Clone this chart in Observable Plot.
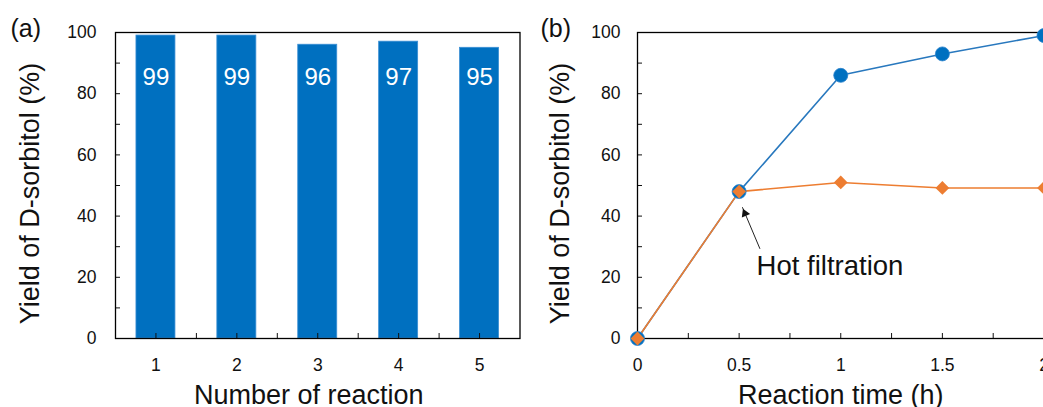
<!DOCTYPE html>
<html>
<head>
<meta charset="utf-8">
<script src="https://cdn.jsdelivr.net/npm/d3@7"></script>
<script src="https://cdn.jsdelivr.net/npm/@observablehq/plot@0.6"></script>
<style>
  html, body { margin: 0; padding: 0; background: #fff; }
  #wrap { position: relative; width: 1043px; height: 407px; overflow: hidden; background: #fff; }
  #wrap > div { position: absolute; top: 0; height: 407px; }
  #wrap svg { max-width: none !important; }
</style>
</head>
<body>
<div id="wrap"><div id="pa" style="left:0;width:521px"></div><div id="pb" style="left:520px;width:533px"></div></div>
<script>
// ---- data ----
const reactions = [1, 2, 3, 4, 5];
const yieldsA = [99, 99, 96, 97, 95];
const times = [0, 0.5, 1, 1.5, 2];
const yieldCatalyst = [0, 48, 86, 93, 99];
const yieldFiltered = [0, 48, 51, 49.2, 49.2];
const yTicks = [0, 10, 20, 30, 40, 50, 60, 70, 80, 90, 100];
const yLabels = [0, 20, 40, 60, 80, 100];
const xTicksA = [1, 1.5, 2, 2.5, 3, 3.5, 4, 4.5, 5];
const xLabelsA = [1, 2, 3, 4, 5];
const xTicksB = [0, 0.25, 0.5, 0.75, 1, 1.25, 1.5, 1.75, 2];
const xLabelsB = [0, 0.5, 1, 1.5, 2];
const annotationText = [{t: 0.586, v: 23.5, label: "Hot filtration"}];
const annotationArrow = [{t1: 0.6025, v1: 29.3, t2: 0.516, v2: 42.9}];

const FONT = "Liberation Sans, Arial, Helvetica, sans-serif";
const BLUE = "#0070C0";
const BLUE_LINE = "#2878BE";
const ORANGE = "#ED7D31";
const TICK_FS = 17.5;

const barsA = reactions.map((n, i) => ({n, v: yieldsA[i], label: String(yieldsA[i])}));
const seriesB = times.map((t, i) => ({t, a: yieldCatalyst[i], b: yieldFiltered[i]}));

const common = {
  height: 407,
  marginTop: 32,
  marginBottom: 69,
  style: {fontFamily: FONT, fontSize: "17.5px", color: "#111", background: "transparent", overflow: "visible", maxWidth: "none"}
};

const plotA = Plot.plot({
  ...common,
  width: 521,
  marginLeft: 115,
  marginRight: 1.5,
  x: {domain: [0.5, 5.5]},
  y: {domain: [0, 100]},
  marks: [
    Plot.rectY(barsA, {x1: d => d.n - 0.241, x2: d => d.n + 0.241, y1: 0, y2: "v", fill: BLUE, stroke: "#3b8fd4", strokeWidth: 0.8}),
    Plot.text(barsA, {x: "n", text: "label", frameAnchor: "top", lineAnchor: "middle", dy: 45, fill: "white", fontSize: 24}),
    Plot.axisY({ticks: yTicks, tickSize: -5, tickFormat: () => "", label: null}),
    Plot.axisY({ticks: yLabels, tickSize: 0, tickPadding: 19, label: null, fontSize: TICK_FS}),
    Plot.axisX({ticks: xTicksA, tickSize: -5, tickFormat: () => "", label: null}),
    Plot.axisX({ticks: xLabelsA, tickSize: 0, tickPadding: 20, tickFormat: d => String(d), label: null, fontSize: TICK_FS}),
    Plot.frame({stroke: "black", strokeWidth: 1.3}),
    Plot.text(["Yield of D-sorbitol (%)"], {frameAnchor: "left", dx: -85, dy: 8, rotate: -90, textAnchor: "middle", lineAnchor: "middle", fontSize: 27, fill: "#111"}),
    Plot.text(["Number of reaction"], {frameAnchor: "bottom", dx: -9, dy: 65, textAnchor: "middle", lineAnchor: "bottom", fontSize: 27, fill: "#111"}),
    Plot.text(["(a)"], {frameAnchor: "top-left", dx: -105, dy: 4, textAnchor: "start", lineAnchor: "bottom", fontSize: 25, fill: "#111"})
  ]
});

const plotB = Plot.plot({
  ...common,
  width: 533,
  marginLeft: 117,
  marginRight: 9.5,
  x: {domain: [0, 2]},
  y: {domain: [0, 100]},
  marks: [
    Plot.axisY({ticks: yTicks, tickSize: -5, tickFormat: () => "", label: null}),
    Plot.axisY({ticks: yLabels, tickSize: 0, tickPadding: 17, label: null, fontSize: TICK_FS}),
    Plot.axisX({ticks: xTicksB, tickSize: -5, tickFormat: () => "", label: null}),
    Plot.axisX({ticks: xLabelsB, tickSize: 0, tickPadding: 20, tickFormat: d => String(d), label: null, fontSize: TICK_FS}),
    Plot.frame({stroke: "black", strokeWidth: 1.3}),
    Plot.line(seriesB, {x: "t", y: "a", stroke: BLUE_LINE, strokeWidth: 1.6}),
    Plot.line(seriesB, {x: "t", y: "b", stroke: ORANGE, strokeWidth: 1.6}),
    Plot.dot(seriesB, {x: "t", y: "a", r: 7, fill: BLUE, stroke: "#2a82cc", strokeWidth: 0.8}),
    Plot.dot(seriesB, {x: "t", y: "b", r: 6.2, symbol: "diamond2", fill: ORANGE}),
    Plot.link(annotationArrow, {x1: "t1", y1: "v1", x2: "t2", y2: "v2", stroke: "#222", strokeWidth: 1}),
    Plot.dot(annotationArrow, {x: "t2", y: "v2", symbol: "triangle2", r: 4.3, rotate: -23, dx: 2.6, dy: 6.2, fill: "#111"}),
    Plot.text(annotationText, {x: "t", y: "v", text: "label", textAnchor: "start", lineAnchor: "middle", fontSize: 27.5, fill: "#111"}),
    Plot.text(["Yield of D-sorbitol (%)"], {frameAnchor: "left", dx: -77, dy: 8, rotate: -90, textAnchor: "middle", lineAnchor: "middle", fontSize: 27, fill: "#111"}),
    Plot.text(["Reaction time (h)"], {frameAnchor: "bottom", dx: 0, dy: 65, textAnchor: "middle", lineAnchor: "bottom", fontSize: 27, fill: "#111"}),
    Plot.text(["(b)"], {frameAnchor: "top-left", dx: -97, dy: 4, textAnchor: "start", lineAnchor: "bottom", fontSize: 25, fill: "#111"})
  ]
});

document.getElementById("pa").appendChild(plotA);
document.getElementById("pb").appendChild(plotB);
</script>
</body>
</html>
